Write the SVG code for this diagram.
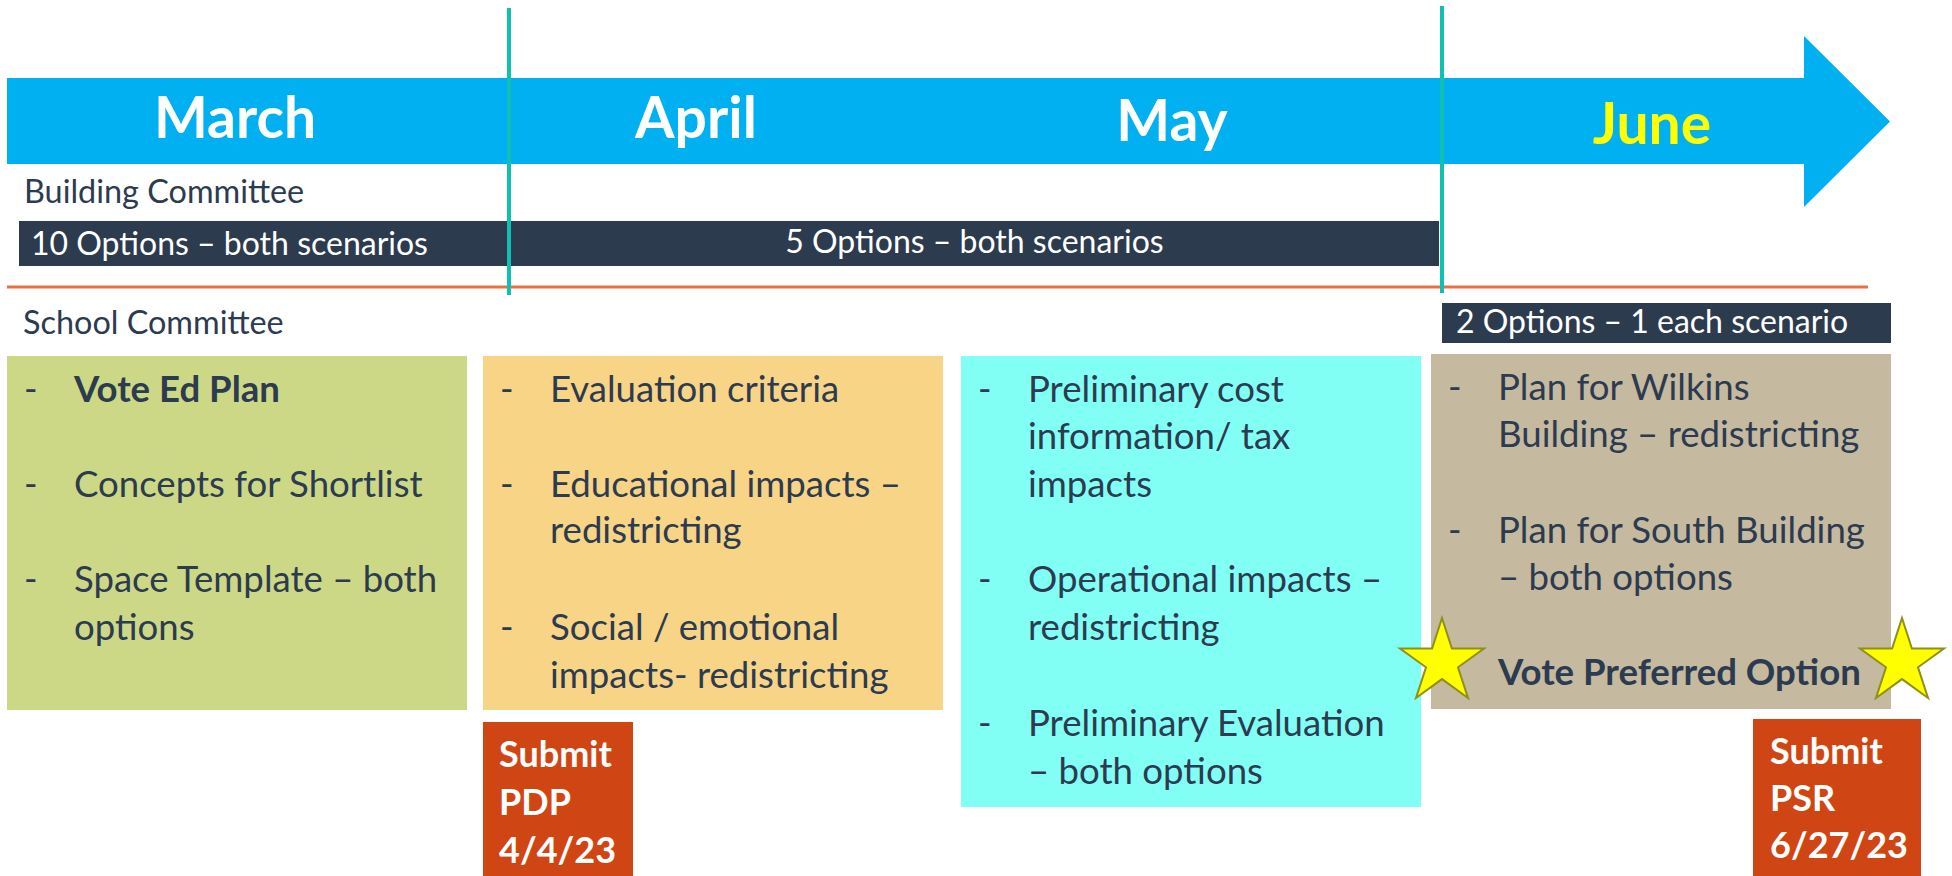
<svg xmlns="http://www.w3.org/2000/svg" width="1952" height="876" viewBox="0 0 1952 876">
<style>
.t{font-family:Lato,"Liberation Sans",sans-serif;fill:#2C3B4F}
.b{font-size:36.6px}
.hd{font-family:Lato,"Liberation Sans",sans-serif;font-weight:bold;font-size:57px;fill:#fff;text-anchor:middle}
.bar{fill:#2C3B4E}
.bt{font-family:Lato,"Liberation Sans",sans-serif;font-size:32px;fill:#fff}
.lbl{font-size:32.4px}
.sub{font-family:Lato,"Liberation Sans",sans-serif;font-weight:bold;font-size:36px;fill:#fff}
.star{fill:#FFFF00;stroke:#8F8F1A;stroke-width:2}
</style>
<rect width="1952" height="876" fill="#fff"/>
<g id="timeline">
<polygon points="7,78 1804,78 1804,36 1890,121.5 1804,207 1804,164 7,164" fill="#00B0F0"/>
<text class="hd" x="235" y="138">March</text>
<text class="hd" x="696" y="138">April</text>
<text class="hd" x="1172" y="141">May</text>
<text class="hd" x="1652" y="144" style="fill:#FFFF00">June</text>
</g>
<g id="building-committee">
<text class="t lbl" x="24" y="203">Building Committee</text>
</g>
<g id="bar-10-options">
<rect class="bar" x="19" y="221" width="490" height="45"/>
<text class="bt" x="31" y="255">10 Options – both scenarios</text>
</g>
<g id="bar-5-options">
<rect class="bar" x="509" y="221" width="930" height="45"/>
<text class="bt" x="974.5" y="253" text-anchor="middle">5 Options – both scenarios</text>
</g>
<g id="school-committee">
<text class="t lbl" x="23" y="334">School Committee</text>
</g>
<g id="bar-2-options">
<rect class="bar" x="1442" y="303" width="449" height="40"/>
<text class="bt" x="1456" y="333">2 Options – 1 each scenario</text>
</g>
<g id="connectors" stroke-linecap="butt">
<line x1="7" y1="287" x2="1868" y2="287" stroke="#EE6F42" stroke-width="3"/>
<line x1="509" y1="8" x2="509" y2="295" stroke="#12BFB3" stroke-width="4"/>
<line x1="1442" y1="6" x2="1442" y2="293" stroke="#12BFB3" stroke-width="4"/>
</g>
<g id="march-box">
<rect x="7" y="356" width="460" height="354" fill="#CCD886"/>
<text class="t b" x="24" y="402">-</text>
<text class="t b" x="74" y="402" font-weight="bold">Vote Ed Plan</text>
<text class="t b" x="24" y="497">-</text>
<text class="t b" x="74" y="497">Concepts for Shortlist</text>
<text class="t b" x="24" y="592">-</text>
<text class="t b" x="74" y="592">Space Template – both</text>
<text class="t b" x="74" y="640">options</text>
</g>
<g id="april-box">
<rect x="483" y="356" width="460" height="354" fill="#F8D487"/>
<text class="t b" x="500" y="402">-</text>
<text class="t b" x="550" y="402">Evaluation criteria</text>
<text class="t b" x="500" y="497">-</text>
<text class="t b" x="550" y="497">Educational impacts –</text>
<text class="t b" x="550" y="543">redistricting</text>
<text class="t b" x="500" y="640">-</text>
<text class="t b" x="550" y="640">Social / emotional</text>
<text class="t b" x="550" y="688">impacts- redistricting</text>
</g>
<g id="may-box">
<rect x="961" y="356" width="460" height="451" fill="#82FFF5"/>
<text class="t b" x="978" y="402">-</text>
<text class="t b" x="1028" y="402">Preliminary cost</text>
<text class="t b" x="1028" y="449">information/ tax</text>
<text class="t b" x="1028" y="497">impacts</text>
<text class="t b" x="978" y="592">-</text>
<text class="t b" x="1028" y="592">Operational impacts –</text>
<text class="t b" x="1028" y="640">redistricting</text>
<text class="t b" x="978" y="736">-</text>
<text class="t b" x="1028" y="736">Preliminary Evaluation</text>
<text class="t b" x="1028" y="784">– both options</text>
</g>
<g id="june-box">
<rect x="1431" y="354" width="460" height="355" fill="#C5B99F"/>
<text class="t b" x="1448" y="400">-</text>
<text class="t b" x="1498" y="400">Plan for Wilkins</text>
<text class="t b" x="1498" y="447">Building – redistricting</text>
<text class="t b" x="1448" y="543">-</text>
<text class="t b" x="1498" y="543">Plan for South Building</text>
<text class="t b" x="1498" y="590">– both options</text>
<text class="t b" x="1498" y="685" font-weight="bold">Vote Preferred Option</text>
</g>
<g id="star-left">
<polygon class="star" points="1442,618 1451.9,648.5 1484,648.5 1458,667.3 1468,698 1442,679.1 1416,698 1426,667.3 1400,648.5 1432.1,648.5"/>
</g>
<g id="star-right">
<polygon class="star" points="1902,618 1911.9,648.5 1944,648.5 1918,667.3 1928,698 1902,679.1 1876,698 1886,667.3 1860,648.5 1892.1,648.5"/>
</g>
<g id="submit-pdp">
<rect x="483" y="722" width="150" height="154" fill="#CF4614"/>
<text class="sub" x="499" y="767">Submit</text>
<text class="sub" x="499" y="815">PDP</text>
<text class="sub" x="499" y="863">4/4/23</text>
</g>
<g id="submit-psr">
<rect x="1753" y="719" width="168" height="157" fill="#CF4614"/>
<text class="sub" x="1770" y="764">Submit</text>
<text class="sub" x="1770" y="811">PSR</text>
<text class="sub" x="1770" y="858">6/27/23</text>
</g>
</svg>
